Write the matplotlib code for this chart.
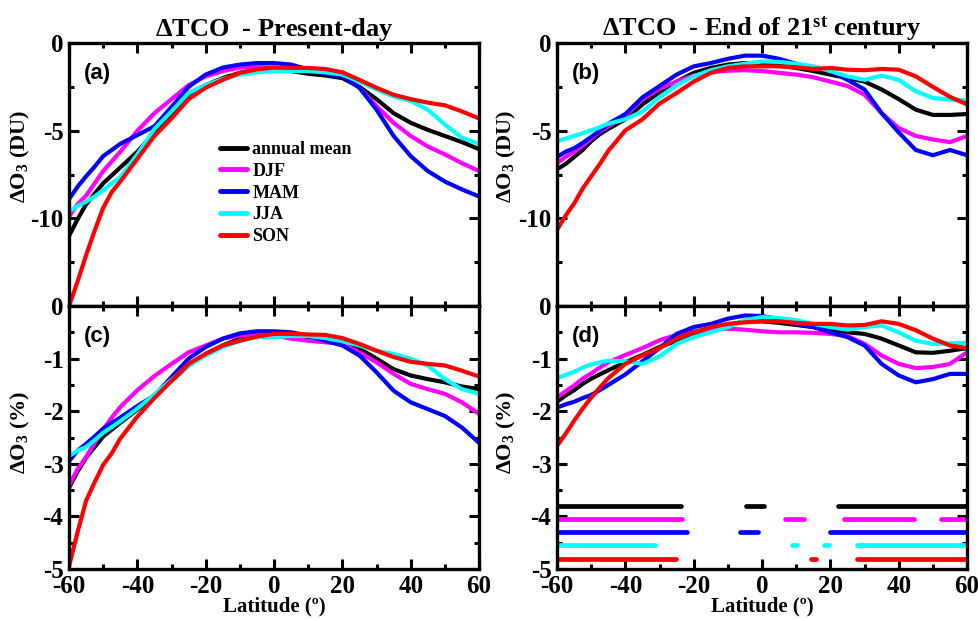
import numpy as np
import matplotlib
matplotlib.use("Agg")
import matplotlib.pyplot as plt
from matplotlib.ticker import MultipleLocator

# ---------------- data ----------------
lat = [-60, -57.5, -55, -52.5, -50, -47.5, -45, -40, -35, -30, -25, -20, -15, -10, -5, 0,
       5, 10, 15, 20, 25, 30, 35, 40, 45, 50, 55, 60]

seasons = ["annual mean", "DJF", "MAM", "JJA", "SON"]
colors = ["#000000", "#FF00FF", "#0000FF", "#00FFFF", "#FF0000"]

# (a) Present-day, DU
a_ann = [-11.0, -10.05, -9.2, -8.6, -8.0, -7.55, -7.1, -6.2, -5.1, -4.0, -2.9, -2.4, -2.0, -1.7, -1.55, -1.55,
         -1.6, -1.75, -1.85, -2.0, -2.5, -3.2, -4.0, -4.55, -4.95, -5.3, -5.65, -6.05]
a_djf = [-9.9, -9.2, -8.7, -8.0, -7.3, -6.75, -6.2, -5.0, -4.0, -3.2, -2.4, -1.9, -1.6, -1.4, -1.37, -1.4,
         -1.5, -1.55, -1.6, -1.8, -2.55, -3.6, -4.55, -5.3, -5.9, -6.35, -6.85, -7.3]
a_mam = [-8.9, -8.2, -7.6, -7.05, -6.45, -6.1, -5.75, -5.25, -4.75, -3.65, -2.5, -1.8, -1.4, -1.23, -1.14, -1.14,
         -1.23, -1.5, -1.75, -1.9, -2.55, -3.8, -5.3, -6.45, -7.3, -7.9, -8.35, -8.75]
a_jja = [-9.6, -9.3, -9.05, -8.75, -8.4, -8.0, -7.65, -6.35, -4.9, -3.9, -2.85, -2.4, -2.05, -1.8, -1.67, -1.6,
         -1.6, -1.6, -1.67, -1.8, -2.2, -2.65, -3.05, -3.3, -3.8, -4.65, -5.4, -5.75]
a_son = [-15.0, -13.6, -12.1, -10.7, -9.4, -8.5, -7.9, -6.6, -5.3, -4.3, -3.2, -2.55, -2.1, -1.7, -1.5, -1.4,
         -1.42, -1.42, -1.48, -1.67, -2.1, -2.55, -2.95, -3.2, -3.4, -3.55, -3.9, -4.3]

# (b) End of 21st century, DU
b_ann = [-7.2, -6.9, -6.5, -6.1, -5.6, -5.2, -4.9, -4.35, -3.5, -2.8, -2.2, -1.7, -1.42, -1.23, -1.14, -1.18,
         -1.3, -1.42, -1.6, -1.8, -2.0, -2.2, -2.65, -3.2, -3.8, -4.1, -4.1, -4.05]
b_djf = [-6.85, -6.5, -6.2, -5.85, -5.45, -5.05, -4.75, -4.15, -3.2, -2.6, -2.2, -1.85, -1.67, -1.58, -1.55, -1.6,
         -1.7, -1.8, -1.95, -2.2, -2.45, -2.95, -4.0, -4.85, -5.3, -5.5, -5.65, -5.3]
b_mam = [-6.5, -6.2, -6.0, -5.7, -5.35, -5.0, -4.6, -4.05, -3.1, -2.45, -1.8, -1.33, -1.14, -0.9, -0.72, -0.72,
         -0.9, -1.18, -1.42, -1.6, -2.1, -2.65, -4.0, -5.1, -6.1, -6.4, -6.1, -6.4]
b_jja = [-5.6, -5.45, -5.3, -5.15, -4.98, -4.8, -4.6, -4.35, -3.9, -3.1, -2.4, -1.9, -1.55, -1.33, -1.18, -1.05,
         -1.08, -1.18, -1.33, -1.6, -1.9, -2.1, -1.86, -2.1, -2.75, -3.13, -3.23, -3.27]
b_son = [-10.65, -9.85, -9.15, -8.3, -7.6, -6.9, -6.15, -4.98, -4.35, -3.45, -2.85, -2.2, -1.7, -1.42, -1.33, -1.33,
         -1.33, -1.38, -1.48, -1.42, -1.52, -1.55, -1.48, -1.52, -1.9, -2.5, -3.07, -3.5]

# (c) Present-day, %
c_ann = [-3.45, -3.15, -2.88, -2.68, -2.48, -2.35, -2.22, -1.97, -1.7, -1.42, -1.13, -0.91, -0.75, -0.62, -0.56, -0.57,
         -0.59, -0.61, -0.66, -0.69, -0.81, -1.0, -1.2, -1.32, -1.39, -1.45, -1.53, -1.58]
c_djf = [-3.42, -3.1, -2.87, -2.6, -2.35, -2.12, -1.92, -1.6, -1.33, -1.1, -0.88, -0.75, -0.62, -0.56, -0.55, -0.56,
         -0.62, -0.66, -0.69, -0.72, -0.88, -1.07, -1.29, -1.48, -1.58, -1.67, -1.83, -2.05]
c_mam = [-2.95, -2.75, -2.62, -2.48, -2.33, -2.22, -2.12, -1.9, -1.7, -1.35, -1.0, -0.78, -0.62, -0.52, -0.48, -0.48,
         -0.5, -0.56, -0.66, -0.75, -0.94, -1.26, -1.61, -1.83, -1.96, -2.09, -2.31, -2.6]
c_jja = [-2.85, -2.75, -2.68, -2.55, -2.41, -2.3, -2.19, -1.95, -1.68, -1.4, -1.13, -0.94, -0.78, -0.66, -0.59, -0.59,
         -0.57, -0.57, -0.61, -0.67, -0.75, -0.85, -0.91, -1.0, -1.13, -1.39, -1.58, -1.67]
c_son = [-4.95, -4.3, -3.7, -3.35, -3.02, -2.8, -2.52, -2.1, -1.75, -1.42, -1.1, -0.91, -0.75, -0.66, -0.58, -0.53,
         -0.53, -0.54, -0.55, -0.61, -0.72, -0.85, -0.97, -1.06, -1.1, -1.13, -1.23, -1.34]

# (d) End of 21st century, %
d_ann = [-1.82, -1.7, -1.6, -1.48, -1.38, -1.3, -1.22, -1.07, -0.93, -0.78, -0.66, -0.53, -0.45, -0.36, -0.29, -0.29,
         -0.32, -0.36, -0.4, -0.46, -0.5, -0.53, -0.62, -0.75, -0.88, -0.89, -0.85, -0.8]
d_djf = [-1.74, -1.62, -1.51, -1.38, -1.28, -1.17, -1.07, -0.93, -0.8, -0.65, -0.55, -0.48, -0.45, -0.43, -0.45, -0.48,
         -0.5, -0.5, -0.51, -0.53, -0.57, -0.72, -0.94, -1.1, -1.18, -1.16, -1.1, -0.88]
d_mam = [-1.93, -1.87, -1.82, -1.75, -1.69, -1.6, -1.5, -1.3, -1.05, -0.8, -0.53, -0.4, -0.34, -0.24, -0.18, -0.19,
         -0.25, -0.34, -0.4, -0.5, -0.59, -0.75, -1.1, -1.32, -1.45, -1.39, -1.29, -1.29]
d_jja = [-1.37, -1.31, -1.25, -1.17, -1.11, -1.07, -1.04, -1.05, -1.1, -0.96, -0.72, -0.59, -0.5, -0.4, -0.27, -0.21,
         -0.23, -0.27, -0.34, -0.4, -0.45, -0.4, -0.37, -0.5, -0.66, -0.72, -0.71, -0.7]
d_son = [-2.66, -2.43, -2.18, -1.95, -1.74, -1.55, -1.37, -1.1, -0.94, -0.8, -0.62, -0.5, -0.4, -0.34, -0.31, -0.29,
         -0.29, -0.32, -0.34, -0.34, -0.37, -0.36, -0.29, -0.34, -0.46, -0.62, -0.75, -0.8]

# significance segments in (d): (start latitude, end latitude) per season, and their level
sig_levels = [-3.8, -4.05, -4.3, -4.55, -4.8]
sig_ann = [(-60, -23.8), (-4.6, 0.7), (22.2, 60)]
sig_djf = [(-60, -23.4), (6.7, 12.2), (23.9, 44.5), (52.4, 60)]
sig_mam = [(-60, -22.1), (-6.4, -1.2), (19.9, 60)]
sig_jja = [(-60, -31.4), (8.8, 10.2), (18.1, 19.7), (27.8, 60)]
sig_son = [(-60, -25.3), (14.3, 15.8), (27.8, 60)]

panels = [
    ("(a)", [a_ann, a_djf, a_mam, a_jja, a_son]),
    ("(b)", [b_ann, b_djf, b_mam, b_jja, b_son]),
    ("(c)", [c_ann, c_djf, c_mam, c_jja, c_son]),
    ("(d)", [d_ann, d_djf, d_mam, d_jja, d_son]),
]
sig_all = [sig_ann, sig_djf, sig_mam, sig_jja, sig_son]

# ---------------- style ----------------
plt.rcParams.update({
    "font.family": ["Liberation Serif", "DejaVu Serif"],
    "font.weight": "bold",
    "axes.unicode_minus": False,
    "mathtext.fontset": "custom",
    "mathtext.rm": "Liberation Serif:bold",
    "mathtext.bf": "Liberation Serif:bold",
    "mathtext.it": "Liberation Serif:bold",
})

fig = plt.figure(figsize=(9.79, 6.21), dpi=100)
W = 0.4188
H = 0.4235
lefts = [0.0705, 0.569]
bottoms = [0.5072, 0.0837]

axes = {}
for i, (lab, series) in enumerate(panels):
    row, col = divmod(i, 2)
    ax = fig.add_axes([lefts[col], bottoms[row], W, H])
    axes[lab] = ax
    for s, c, name in zip(series, colors, seasons):
        ax.plot(lat, s, color=c, lw=3.0, label=name, solid_joinstyle="round",
                solid_capstyle="round", clip_on=True)
    ax.set_xlim(-60, 60)
    ax.xaxis.set_major_locator(MultipleLocator(20))
    ax.xaxis.set_minor_locator(MultipleLocator(10))
    xlab = -0.09 if col == 0 else -0.096
    if row == 0:
        ax.set_ylim(-15, 0)
        ax.set_yticks([-15, -10, -5, 0])
        ax.set_yticklabels(["", "-10", "-5", "0"])
        ax.yaxis.set_minor_locator(MultipleLocator(2.5))
        ax.set_ylabel(r"$\Delta$O$_{3}$ (DU)", fontsize=16, fontweight="bold")
        ax.yaxis.set_label_coords(xlab, 0.57)
        ax.tick_params(axis="x", labelbottom=False)
    else:
        ax.set_ylim(-5, 0)
        ax.set_yticks([-5, -4, -3, -2, -1, 0])
        ax.yaxis.set_minor_locator(MultipleLocator(0.5))
        ax.set_ylabel(r"$\Delta$O$_{3}$ (%)", fontsize=16, fontweight="bold")
        ax.yaxis.set_label_coords(xlab, 0.52)
        ax.set_xlabel("Latitude (º)", fontsize=15, fontweight="bold", va="top")
        ax.xaxis.set_label_coords(0.5, -0.103)
    ax.tick_params(which="both", direction="in", top=True, right=True, width=2.2,
                   labelsize=18)
    ax.tick_params(which="major", length=7)
    ax.tick_params(which="minor", length=3.5)
    ax.tick_params(axis="x", which="major", pad=4)
    ax.tick_params(axis="y", which="major", pad=4)
    for sp in ax.spines.values():
        sp.set_linewidth(2.4)
    for t in ax.get_xticklabels() + ax.get_yticklabels():
        t.set_fontweight("bold")
    ax.text(0.036, 0.885, lab, transform=ax.transAxes, fontsize=16,
            fontweight="bold", family="Liberation Sans", va="center", ha="left")

# significance bars in (d)
axd = axes["(d)"]
for segs, lev, c in zip(sig_all, sig_levels, colors):
    for (x0, x1) in segs:
        axd.plot([x0, x1], [lev, lev], color=c, lw=3.4, solid_capstyle="round")

# legend in (a)
axa = axes["(a)"]
leg = axa.legend(loc="upper left", bbox_to_anchor=(0.368, 0.628), frameon=False,
                 fontsize=13, handlelength=1.5, handletextpad=0.3, labelspacing=0.27,
                 borderpad=0, borderaxespad=0)
for t in leg.get_texts():
    t.set_fontweight("bold")
for l in leg.get_lines():
    l.set_linewidth(3.5)

axa.set_title(r"$\Delta$TCO  - Present-day", fontsize=19, fontweight="bold", pad=2)
axes["(b)"].set_title(r"$\Delta$TCO  - End of 21$^{\mathbf{st}}$ century", fontsize=19,
                      fontweight="bold", pad=2)

fig.savefig("out.png", dpi=100)
